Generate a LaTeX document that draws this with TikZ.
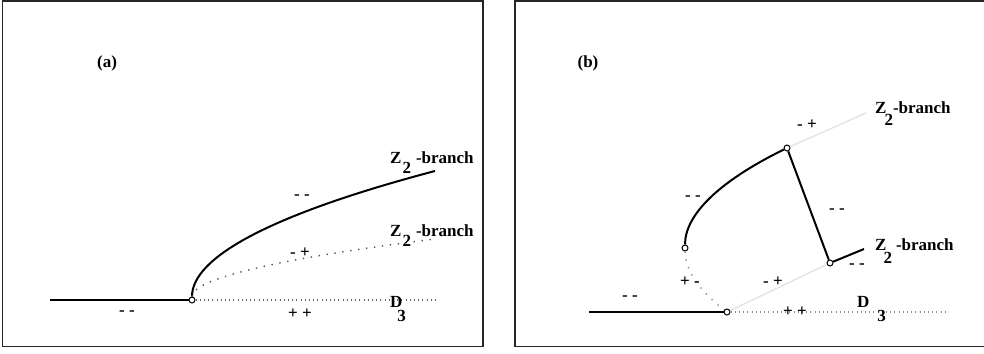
\documentclass[tikz,border=0pt]{standalone}
\usepackage{fontspec}
\setmainfont{Liberation Serif}
\usepackage{tikz}
\usetikzlibrary{positioning}
\newcommand{\Zlab}[3]{Z\kern#1\raisebox{#2}{2}\kern#3-branch}
\newcommand{\Dlab}[2]{D\kern#1\raisebox{#2}{3}}
\tikzset{
    frame/.style={
        draw=black!85,
        line width=1.6pt
    },
    branch/.style={
        line width=2pt
    },
    lightbranch/.style={
        draw=gray!22,
        line width=1.4pt
    },
    dotbranch/.style={
        draw=black!70,
        line width=1.4pt,
        dash pattern=on 1.3pt off 6.7pt
    },
    dotline/.style={
        draw=black!60,
        line width=1.1pt,
        dash pattern=on 1.1pt off 3.1pt
    },
    junction/.style={
        circle,
        draw,
        line width=1pt,
        inner sep=0pt,
        minimum size=6pt
    },
    lbl/.style={
        font=\fontsize{17}{19}\selectfont\bfseries,
        inner sep=0pt
    }
}

\begin{document}
\begin{tikzpicture}[x=1pt, y=-1pt]
    \useasboundingbox (0,0) rectangle (984,353);
    \draw[frame] (2.5,1) rectangle (483,346.5);
    \draw[frame] (515,1) rectangle (986,346.5);

    % (a)
    \node[lbl] (labA) at (107,63) {(a)};
    \node[junction] (A0) at (192,300) {};
    \coordinate (Astart) at (50,300);
    \coordinate (Aend) at (435,300);
    \coordinate (Aup) at (435,171);
    \coordinate (Alow) at (435,239);
    \draw[branch] (Astart) -- (A0);
    \draw[branch] (A0) .. controls +(0,-43) and +(-163,43) .. (Aup);
    \draw[dotbranch] (A0) .. controls +(0,-20.3) and +(-163,20.3) .. (Alow);
    \draw[dotline] (A0) -- (Aend);
    \node[lbl, anchor=base west] (zA1) at (390,163) {\Zlab{1pt}{-10pt}{5pt}};
    \node[lbl, anchor=base west] (zA2) at (390,236) {\Zlab{1pt}{-10pt}{5pt}};
    \node[lbl, anchor=base west] (dA) at (390,307) {\Dlab{-5pt}{-14pt}};
    \node[lbl] (sA1) at (302,197) {- -};
    \node[lbl] (sA2) at (300,253) {- +};
    \node[lbl] (sA3) at (127,313) {- -};
    \node[lbl] (sA4) at (300,314) {+ +};

    % (b)
    \node[lbl] (labB) at (588,63) {(b)};
    \node[junction] (B0) at (727,312) {};
    \node[junction] (B1) at (830,263) {};
    \node[junction] (B2) at (787,148) {};
    \node[junction] (B3) at (685,248) {};
    \coordinate (Bstart) at (589,312);
    \coordinate (Bend) at (948,312);
    \coordinate (Bup) at (866,113);
    \coordinate (Bright) at (864,249);
    \draw[branch] (Bstart) -- (B0);
    \draw[dotline, draw=black!45] (B0) -- (Bend);
    \draw[dotbranch, draw=black!45] (B3) .. controls +(0,21.3) and +(-28,-21.3) .. (B0);
    \draw[branch] (B3) .. controls +(0,-33.3) and +(-68,33.3) .. (B2);
    \draw[lightbranch] (B0) -- (B1);
    \draw[lightbranch] (B2) -- (Bup);
    \draw[branch] (B1) -- (B2);
    \draw[branch] (B1) -- (Bright);
    \node[lbl, anchor=base west] (zB1) at (875,113) {\Zlab{-2pt}{-12pt}{0pt}};
    \node[lbl, anchor=base west] (zB2) at (875,250) {\Zlab{-3pt}{-13pt}{4pt}};
    \node[lbl, anchor=base west] (dB) at (857,307) {\Dlab{8pt}{-14pt}};
    \node[lbl] (sB1) at (807,125) {- +};
    \node[lbl] (sB2) at (693,198) {- -};
    \node[lbl] (sB3) at (837,211) {- -};
    \node[lbl] (sB4) at (857,266) {- -};
    \node[lbl] (sB5) at (690,282) {+ -};
    \node[lbl] (sB6) at (773,282) {- +};
    \node[lbl] (sB7) at (630,298) {- -};
    \node[lbl] (sB8) at (795,312) {+ +};
\end{tikzpicture}
\end{document}
